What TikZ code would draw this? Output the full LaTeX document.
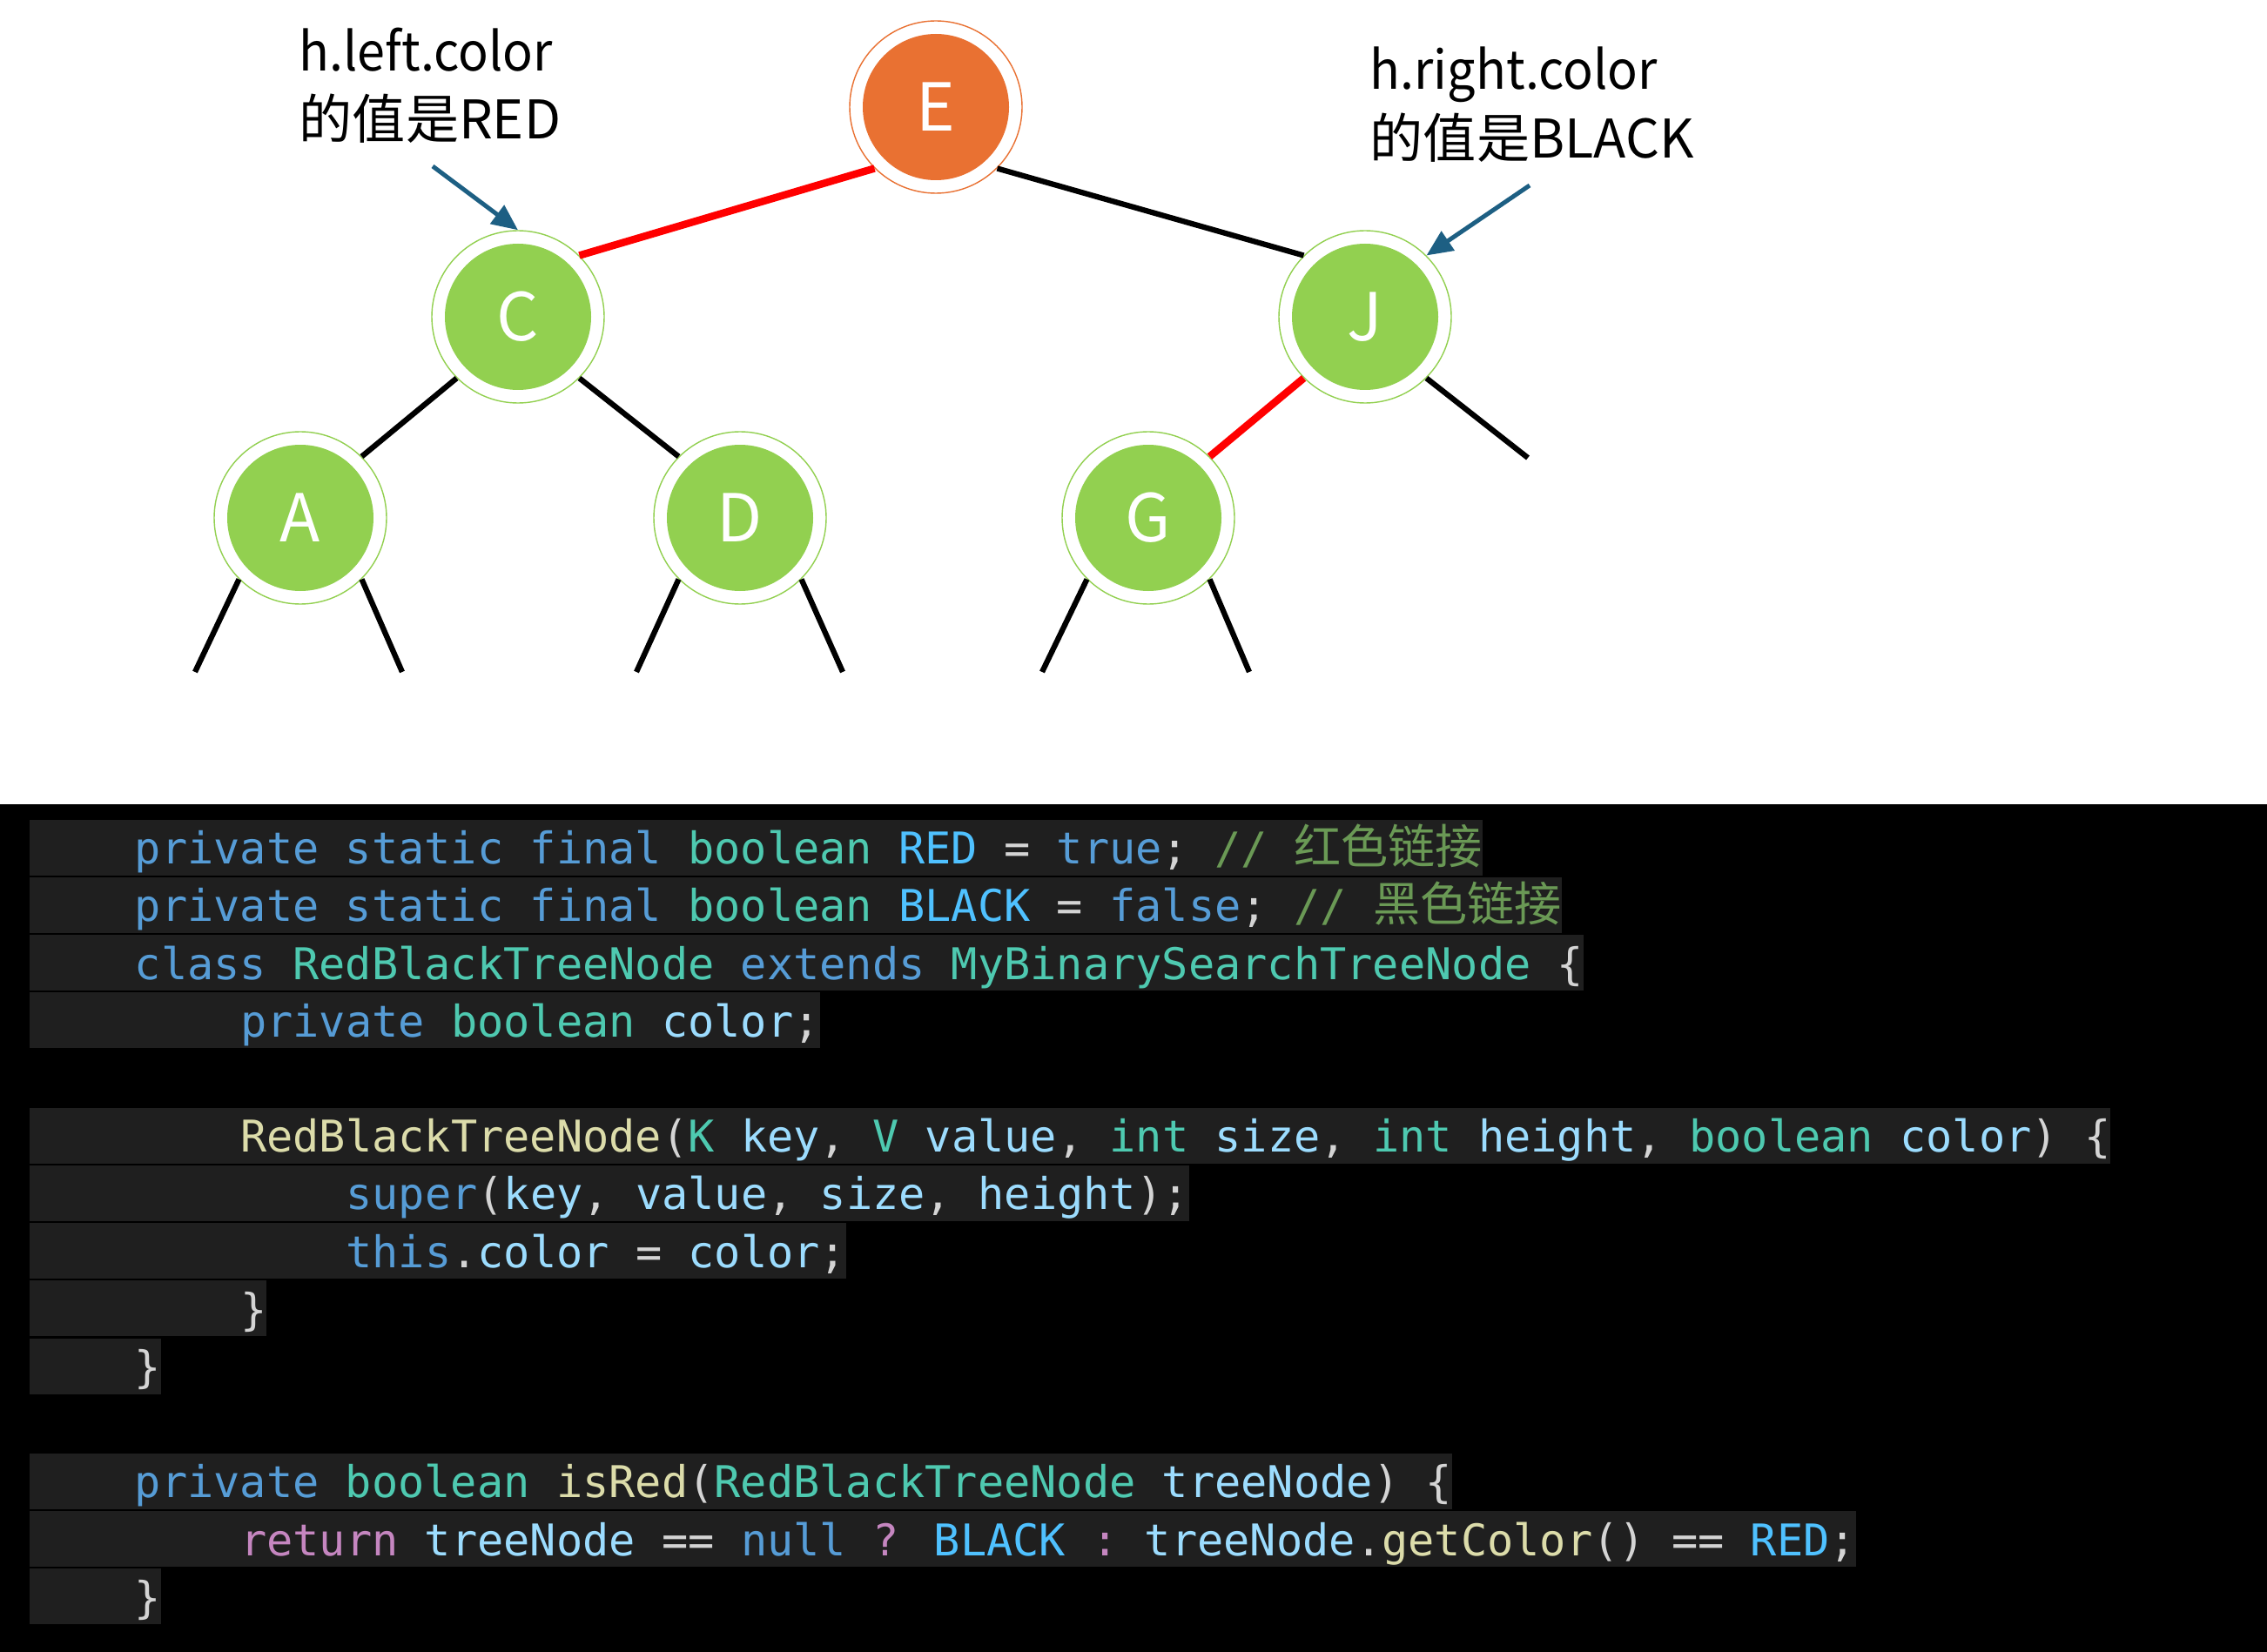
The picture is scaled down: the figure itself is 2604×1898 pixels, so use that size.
\documentclass[tikz,border=0pt]{standalone}
\usepackage{fontspec}
\usepackage{tikz}
\usetikzlibrary{arrows.meta}
\newfontfamily\cjkfont{Noto Sans CJK SC}
\newfontfamily\cjknarrow[FakeStretch=0.94]{Noto Sans CJK SC}
\newfontfamily\codefont{DejaVu Sans Mono}
\definecolor{nodeRed}{HTML}{E97132}
\definecolor{nodeBlack}{HTML}{92D050}
\definecolor{linkRed}{HTML}{FF0000}
\definecolor{calloutBlue}{HTML}{1D5F83}
\definecolor{codeBg}{HTML}{1F1F1F}
\definecolor{synKw}{HTML}{569CD6}
\definecolor{synTy}{HTML}{4EC9B0}
\definecolor{synCn}{HTML}{4FC1FF}
\definecolor{synVar}{HTML}{9CDCFE}
\definecolor{synFn}{HTML}{DCDCAA}
\definecolor{synPn}{HTML}{D4D4D4}
\definecolor{synCm}{HTML}{6A9955}
\definecolor{synCtl}{HTML}{C586C0}
\newcommand{\ckw}[1]{\textcolor{synKw}{#1}}
\newcommand{\cty}[1]{\textcolor{synTy}{#1}}
\newcommand{\ccn}[1]{\textcolor{synCn}{#1}}
\newcommand{\cvar}[1]{\textcolor{synVar}{#1}}
\newcommand{\cfn}[1]{\textcolor{synFn}{#1}}
\newcommand{\ccm}[1]{\textcolor{synCm}{#1}}
\newcommand{\cctl}[1]{\textcolor{synCtl}{#1}}
\newcommand{\zh}[1]{{\cjkfont\fontsize{15.4pt}{18pt}\selectfont #1}}
\newcommand{\tb}{\hspace*{12.12mm}}

\begin{document}
\begin{tikzpicture}[
  x=0.1mm, y=-0.1mm,
  rbnode/.style={circle, draw=#1, line width=0.4pt, minimum size=19.8mm,
                 inner sep=0pt, text=white,
                 font=\cjkfont\fontsize{21.6pt}{26pt}\selectfont,
                 path picture={\fill[#1] (path picture bounding box.center) circle (8.4mm);}},
  redlink/.style={line width=0.85mm, linkRed},
  blacklink/.style={line width=0.63mm, black},
  callout/.style={line width=0.5mm, calloutBlue,
                  -{Triangle[length=3mm, width=2.6mm]}},
  note/.style={inner sep=0pt, anchor=base west,
               font=\cjkfont\fontsize{17.4pt}{21pt}\selectfont},
  codeline/.style={anchor=north west, inner sep=0pt, fill=codeBg, text=synPn,
                   text height=5.1mm, text depth=1.3mm,
                   font=\codefont\fontsize{14.3pt}{17pt}\selectfont},
]
\useasboundingbox (0,0) rectangle (2604,1898);
\fill[white] (0,0) rectangle (2604,924);
\fill[black] (0,924) rectangle (2604,1898);

% tree
\node[rbnode=nodeRed] (E) at (1075,123) {E};
\node[rbnode=nodeBlack] (C) at (595,364) {C};
\node[rbnode=nodeBlack] (J) at (1568,364) {J};
\node[rbnode=nodeBlack] (A) at (345,595) {A};
\node[rbnode=nodeBlack] (D) at (850,595) {D};
\node[rbnode=nodeBlack] (G) at (1319,595) {G};

\coordinate (J-r) at (1755,526);
\coordinate (A-l) at (224,772);
\coordinate (A-r) at (462,772);
\coordinate (D-l) at (731,772);
\coordinate (D-r) at (968,772);
\coordinate (G-l) at (1197,772);
\coordinate (G-r) at (1435,772);

\draw[redlink] (E.south west) -- (C.north east);
\draw[blacklink] (E.south east) -- (J.north west);
\draw[blacklink] (C.south west) -- (A.north east);
\draw[blacklink] (C.south east) -- (D.north west);
\draw[redlink] (J.south west) -- (G.north east);
\draw[blacklink] (J.south east) -- (J-r);
\draw[blacklink] (A.south west) -- (A-l);
\draw[blacklink] (A.south east) -- (A-r);
\draw[blacklink] (D.south west) -- (D-l);
\draw[blacklink] (D.south east) -- (D-r);
\draw[blacklink] (G.south west) -- (G-l);
\draw[blacklink] (G.south east) -- (G-r);

% notes
\node[note, font=\cjknarrow\fontsize{17.4pt}{21pt}\selectfont] (noteL1) at (343,82) {h.left.color};
\node[note] (noteL2) at (343,160) {的值是RED};
\node[note, font=\cjknarrow\fontsize{17.4pt}{21pt}\selectfont] (noteR1) at (1573,103) {h.right.color};
\node[note] (noteR2) at (1573,182) {的值是BLACK};
\coordinate (tailL) at (497,191);
\coordinate (tailR) at (1757,213);
\draw[callout] (tailL) -- (C.north);
\draw[callout] (tailR) -- (J.north east);

% code
\node[codeline] (c1) at (33,941) {\tb\ckw{private} \ckw{static} \ckw{final} \cty{boolean} \ccn{RED} = \ckw{true}; \ccm{// \zh{红色链接}}};
\node[codeline] (c2) at (33,1007.2) {\tb\ckw{private} \ckw{static} \ckw{final} \cty{boolean} \ccn{BLACK} = \ckw{false}; \ccm{// \zh{黑色链接}}};
\node[codeline] (c3) at (33,1073.4) {\tb\ckw{class} \cty{RedBlackTreeNode} \ckw{extends} \cty{MyBinarySearchTreeNode} \{};
\node[codeline] (c4) at (33,1139.6) {\tb\tb\ckw{private} \cty{boolean} \cvar{color};};
\node[codeline] (c5) at (33,1272) {\tb\tb\cfn{RedBlackTreeNode}(\cty{K} \cvar{key}, \cty{V} \cvar{value}, \cty{int} \cvar{size}, \cty{int} \cvar{height}, \cty{boolean} \cvar{color}) \{};
\node[codeline] (c6) at (33,1338.2) {\tb\tb\tb\ckw{super}(\cvar{key}, \cvar{value}, \cvar{size}, \cvar{height});};
\node[codeline] (c7) at (33,1404.4) {\tb\tb\tb\ckw{this}.\cvar{color} = \cvar{color};};
\node[codeline] (c8) at (33,1470.6) {\tb\tb\}};
\node[codeline] (c9) at (33,1536.8) {\tb\}};
\node[codeline] (c10) at (33,1669.2) {\tb\ckw{private} \cty{boolean} \cfn{isRed}(\cty{RedBlackTreeNode} \cvar{treeNode}) \{};
\node[codeline] (c11) at (33,1735.4) {\tb\tb\cctl{return} \cvar{treeNode} == \ckw{null} \cctl{?} \ccn{BLACK} \cctl{:} \cvar{treeNode}.\cfn{getColor}() == \ccn{RED};};
\node[codeline] (c12) at (33,1801.6) {\tb\}};

\end{tikzpicture}
\end{document}
